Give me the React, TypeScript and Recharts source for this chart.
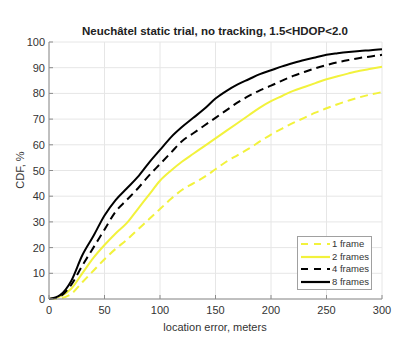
import React from "react";
import { LineChart, Line, XAxis, YAxis, CartesianGrid } from "recharts";

const errorMeters = [0, 10, 20, 30, 40, 50, 60, 70, 80, 90, 100, 110, 120, 130, 140, 150, 160, 170, 180, 190, 200, 210, 220, 230, 240, 250, 260, 270, 280, 290, 300];
const oneFrame = [0, 0.3, 2, 6.5, 11, 15.5, 19.5, 23, 27, 31, 35, 39, 42.5, 45, 47.5, 50.5, 53.5, 56, 58.5, 61.3, 64, 66.3, 68.5, 70.5, 72.5, 74.2, 75.8, 77.2, 78.5, 79.6, 80.5];
const twoFrames = [0, 1, 4, 10, 16, 21, 25.5, 29.5, 35, 40.5, 46, 50, 53.5, 56.5, 59.5, 62.5, 65.5, 68.5, 71.5, 74.5, 77, 79, 81, 82.5, 84, 85.5, 86.7, 87.8, 88.8, 89.6, 90.4];
const fourFrames = [0, 1, 5.5, 13, 20, 27, 34, 38.5, 43, 48, 52.5, 57, 61.5, 64.5, 67.5, 70.5, 73.5, 76.5, 79, 81.2, 83, 85, 86.8, 88.3, 89.8, 91, 92.1, 93, 93.8, 94.4, 95];
const eightFrames = [0, 1.5, 7, 17, 24.5, 32.5, 38.5, 43, 47.5, 53, 58, 63, 67, 70.5, 74, 78, 81, 83.5, 85.5, 87.5, 89, 90.5, 91.8, 93, 94, 95, 95.6, 96.1, 96.5, 96.8, 97.2];

const xTicks = [0, 50, 100, 150, 200, 250, 300];
const yTicks = [0, 10, 20, 30, 40, 50, 60, 70, 80, 90, 100];

const data = errorMeters.map((x, i) => ({
  x,
  f1: oneFrame[i],
  f2: twoFrames[i],
  f4: fourFrames[i],
  f8: eightFrames[i],
}));

const FONT = "Arial, 'Liberation Sans', sans-serif";
const YELLOW = "#f2f23c";
const FRAME = "#8c8c8c";
const TEXT = "#333333";

const series = [
  { key: "f1", name: "1 frame", color: YELLOW, dash: "8 5" },
  { key: "f2", name: "2 frames", color: YELLOW, dash: undefined },
  { key: "f4", name: "4 frames", color: "#000000", dash: "8 5" },
  { key: "f8", name: "8 frames", color: "#000000", dash: undefined },
];

const BottomTick = (props: any) => {
  const { x, y, payload } = props;
  return (
    <g>
      <line x1={x} x2={x} y1={y} y2={y - 4} stroke={FRAME} />
      <text x={x} y={y + 15} textAnchor="middle" fontSize={11} fill={TEXT} fontFamily={FONT}>
        {payload.value}
      </text>
    </g>
  );
};

const TopTick = (props: any) => {
  const { x, y } = props;
  return <line x1={x} x2={x} y1={y} y2={y + 4} stroke={FRAME} />;
};

const LeftTick = (props: any) => {
  const { x, y, payload } = props;
  return (
    <g>
      <line x1={x} x2={x + 4} y1={y} y2={y} stroke={FRAME} />
      <text x={x - 4} y={y + 4} textAnchor="end" fontSize={11} fill={TEXT} fontFamily={FONT}>
        {payload.value}
      </text>
    </g>
  );
};

const RightTick = (props: any) => {
  const { x, y } = props;
  return <line x1={x} x2={x - 4} y1={y} y2={y} stroke={FRAME} />;
};

const LegendBox = () => (
  <div
    style={{
      position: "absolute",
      left: 297,
      top: 236,
      border: "1px solid #a0a0a0",
      background: "#fff",
      padding: "1px 2px 1px 2px",
      fontFamily: FONT,
      fontSize: 9.5,
      color: TEXT,
      lineHeight: "12.5px",
    }}
  >
    {series.map((s) => (
      <div key={s.key} style={{ display: "flex", alignItems: "center" }}>
        <svg width={31} height={8} style={{ marginRight: 1 }}>
          <line x1={1} x2={30} y1={4} y2={4} stroke={s.color} strokeWidth={2.2} strokeDasharray={s.dash ? "7 6" : undefined} />
        </svg>
        <span>{s.name}</span>
      </div>
    ))}
  </div>
);

export default function App() {
  return (
    <div style={{ position: "absolute", left: 0, top: 0, width: 413, height: 356, background: "#fff" }}>
      <LineChart width={413} height={356} data={data} margin={{ top: 42, right: 31, bottom: 27, left: 0 }}>
        <CartesianGrid stroke="#e6e6e6" horizontalValues={yTicks} verticalValues={xTicks} />
        <XAxis
          dataKey="x"
          type="number"
          domain={[0, 300]}
          ticks={xTicks}
          height={30}
          tickSize={0}
          tickMargin={0}
          tickLine={false}
          axisLine={{ stroke: FRAME }}
          tick={<BottomTick />}
        />
        <XAxis
          xAxisId="top"
          dataKey="x"
          type="number"
          orientation="top"
          domain={[0, 300]}
          ticks={xTicks}
          height={0}
          tickSize={0}
          tickMargin={0}
          tickLine={false}
          axisLine={{ stroke: FRAME }}
          tick={<TopTick />}
        />
        <YAxis
          type="number"
          domain={[0, 100]}
          ticks={yTicks}
          width={49}
          tickSize={0}
          tickMargin={0}
          tickLine={false}
          axisLine={{ stroke: FRAME }}
          tick={<LeftTick />}
        />
        <YAxis
          yAxisId="right"
          type="number"
          orientation="right"
          domain={[0, 100]}
          ticks={yTicks}
          width={0}
          tickSize={0}
          tickMargin={0}
          tickLine={false}
          axisLine={{ stroke: FRAME }}
          tick={<RightTick />}
        />
        {series.map((s) => (
          <Line
            key={s.key}
            dataKey={s.key}
            name={s.name}
            stroke={s.color}
            strokeWidth={2}
            strokeDasharray={s.dash}
            dot={false}
            activeDot={false}
            type="monotone"
            isAnimationActive={false}
          />
        ))}
        <text x={215} y={35} textAnchor="middle" fontSize={11.5} fontWeight="bold" fill="#222" fontFamily={FONT}>
          Neuchâtel static trial, no tracking, 1.5&lt;HDOP&lt;2.0
        </text>
        <text x={215} y={331} textAnchor="middle" fontSize={11} fill={TEXT} fontFamily={FONT}>
          location error, meters
        </text>
        <text
          x={24}
          y={170}
          textAnchor="middle"
          fontSize={11}
          fill={TEXT}
          fontFamily={FONT}
          transform="rotate(-90 24 170)"
        >
          CDF, %
        </text>
      </LineChart>
      <LegendBox />
    </div>
  );
}
